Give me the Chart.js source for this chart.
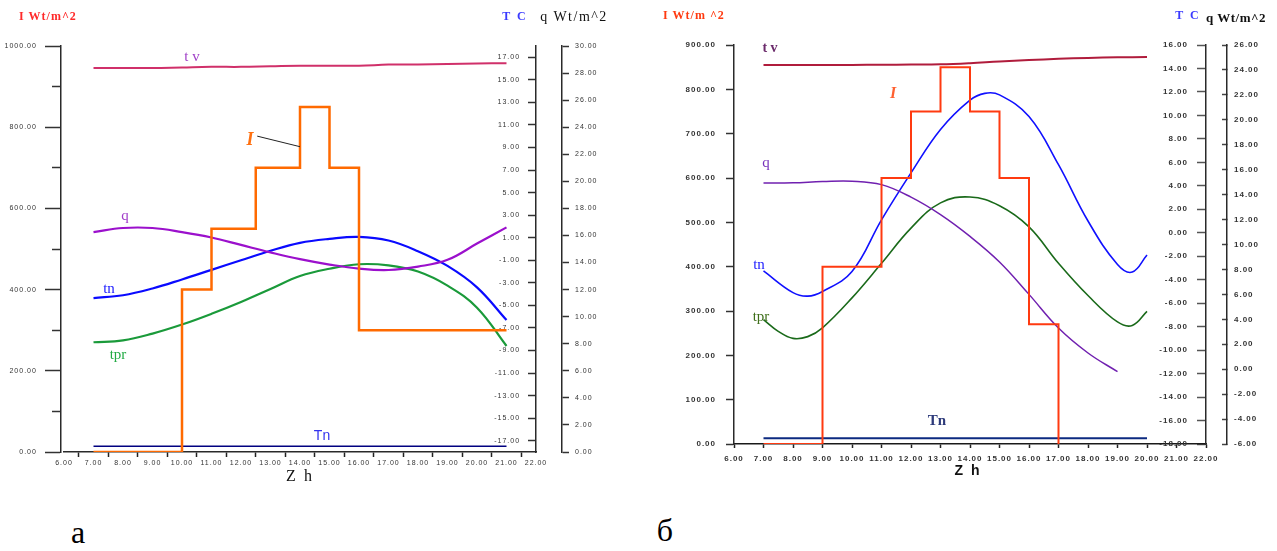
<!DOCTYPE html>
<html>
<head>
<meta charset="utf-8">
<script src="https://cdn.jsdelivr.net/npm/chart.js@4.4.1/dist/chart.umd.min.js"></script>
<style>
  html, body { margin: 0; padding: 0; background: #fff; }
  #wrap { position: relative; width: 1277px; height: 551px; overflow: hidden; background: #fff; }
  canvas { position: absolute; top: 0; }
  #cA { left: 0; }
  #cB { left: 640px; }
  .t { position: absolute; white-space: nowrap; transform: translate(-50%, -50%); line-height: 1; }
  .serif { font-family: "Liberation Serif", "DejaVu Serif", serif; }
  .sans { font-family: "Liberation Sans", Arial, sans-serif; }
</style>
</head>
<body>
<div id="wrap">
  <canvas id="cA" width="640" height="500"></canvas>
  <canvas id="cB" width="637" height="500"></canvas>

  <!-- panel а: axis captions and curve names -->
  <span class="t serif" style="left:48px;top:16px;font-size:12px;font-weight:bold;letter-spacing:1px;color:#ff2a2a">I Wt/m^2</span>
  <span class="t serif" style="left:515px;top:16px;font-size:12px;font-weight:bold;letter-spacing:2px;color:#3a3aff">T C</span>
  <span class="t serif" style="left:574px;top:17px;font-size:14px;letter-spacing:1.5px;color:#111">q Wt/m^2</span>
  <span class="t serif" style="left:192px;top:56px;font-size:15px;color:#a040c8">t v</span>
  <span class="t serif" style="left:250px;top:139px;font-size:18px;font-weight:bold;font-style:italic;color:#ff7010">I</span>
  <span class="t serif" style="left:125px;top:215px;font-size:15px;color:#a03cc8">q</span>
  <span class="t serif" style="left:109px;top:288px;font-size:15px;color:#1a1aff">tn</span>
  <span class="t serif" style="left:118px;top:354px;font-size:15px;color:#22aa44">tpr</span>
  <span class="t sans" style="left:322px;top:435px;font-size:14px;color:#3333ee">Tn</span>
  <span class="t serif" style="left:300px;top:476px;font-size:16px;letter-spacing:2px;color:#111">Z h</span>
  <span class="t serif" style="left:78px;top:532px;font-size:32px;color:#000">а</span>

  <!-- panel б: axis captions and curve names -->
  <span class="t serif" style="left:694px;top:15px;font-size:12px;font-weight:bold;letter-spacing:1px;color:#ff3a10">I Wt/m ^2</span>
  <span class="t serif" style="left:1188px;top:15px;font-size:12px;font-weight:bold;letter-spacing:2px;color:#3a3aff">T C</span>
  <span class="t serif" style="left:1236px;top:17px;font-size:13px;font-weight:bold;letter-spacing:0.5px;color:#111">q Wt/m^2</span>
  <span class="t serif" style="left:770px;top:48px;font-size:14px;font-weight:bold;color:#6b2a6b">t v</span>
  <span class="t serif" style="left:893px;top:93px;font-size:16px;font-weight:bold;font-style:italic;color:#ff6030">I</span>
  <span class="t serif" style="left:766px;top:162px;font-size:15px;color:#7733bb">q</span>
  <span class="t serif" style="left:759px;top:264px;font-size:15px;color:#1a1aff">tn</span>
  <span class="t serif" style="left:761px;top:316px;font-size:15px;color:#3f6f1a">tpr</span>
  <span class="t serif" style="left:937px;top:420px;font-size:15px;font-weight:bold;color:#2d3a7a">Tn</span>
  <span class="t sans" style="left:968px;top:470px;font-size:14px;font-weight:bold;letter-spacing:2px;color:#111">Z h</span>
  <span class="t serif" style="left:665px;top:530px;font-size:32px;color:#000">б</span>
</div>

<script>
// ---------- panel а (hours 7..21) ----------
const hoursA = [7, 8, 9, 10, 11, 12, 13, 14, 15, 16, 17, 18, 19, 20, 21];
const tvA  = [16.05, 16.05, 16.05, 16.1, 16.15, 16.15, 16.2, 16.25, 16.25, 16.25, 16.35, 16.37, 16.4, 16.45, 16.47];
const tnA  = [-4.35, -4.1, -3.5, -2.7, -1.85, -1.0, -0.15, 0.55, 0.9, 1.07, 0.75, -0.2, -1.5, -3.4, -6.3];
const tprA = [-8.27, -8.1, -7.5, -6.7, -5.75, -4.7, -3.55, -2.4, -1.75, -1.35, -1.45, -2.0, -3.25, -5.2, -8.6];
const qA   = [16.25, 16.55, 16.55, 16.25, 15.85, 15.3, 14.75, 14.25, 13.85, 13.55, 13.45, 13.7, 14.2, 15.4, 16.6];
const stepHoursA = [7, 10, 11, 12.5, 14, 15, 16, 21];
const irrA = [0, 400, 550, 700, 850, 700, 300, 300];
const groundHoursA = [7, 21];
const TnA = [-17.5, -17.5];

// ---------- panel б (hours 7..20) ----------
const hoursB = [7, 8, 9, 10, 11, 12, 13, 14, 15, 16, 17, 18, 19, 20];
const tvB = [14.3, 14.3, 14.3, 14.3, 14.32, 14.33, 14.35, 14.45, 14.6, 14.72, 14.82, 14.9, 14.95, 14.97];
const tnHoursB = [7, 8, 8.5, 9, 10, 11, 12, 13, 14, 14.5, 15, 16, 17, 18, 19, 19.5, 20];
const tnB = [-3.25, -5.1, -5.4, -5.0, -3.3, 1.1, 5.1, 8.8, 11.3, 11.88, 11.75, 9.9, 5.8, 1.0, -2.7, -3.35, -1.9];
const tprHoursB = [7, 7.5, 8, 8.5, 9, 10, 11, 12, 13, 14, 15, 16, 17, 18, 19, 19.5, 20];
const tprB = [-7.4, -8.4, -9.0, -8.85, -8.1, -5.55, -2.6, 0.4, 2.55, 3.05, 2.3, 0.5, -2.6, -5.35, -7.6, -7.9, -6.7];
const qHoursB = [7, 8, 9, 10, 11, 12, 13, 14, 15, 16, 17, 18, 19];
const qB = [14.93, 14.95, 15.05, 15.08, 14.8, 13.8, 12.4, 10.65, 8.6, 6.0, 3.3, 1.3, -0.2];
const stepHoursB = [7, 9, 11, 12, 13, 14, 15, 16, 17];
const irrB = [0, 400, 600, 750, 850, 750, 600, 270, 0];
const groundHoursB = [7, 20];
const TnB = [-17.5, -17.5];

// ---------- tick values ----------
const hourTicks = [6, 7, 8, 9, 10, 11, 12, 13, 14, 15, 16, 17, 18, 19, 20, 21, 22];
const irrTicksA = [0, 100, 200, 300, 400, 500, 600, 700, 800, 900, 1000];
const irrLabelStepA = 200;
const tcTicksA = [-17, -15, -13, -11, -9, -7, -5, -3, -1, 1, 3, 5, 7, 9, 11, 13, 15, 17];
const qTicksA = [0, 2, 4, 6, 8, 10, 12, 14, 16, 18, 20, 22, 24, 26, 28, 30];
const irrTicksB = [0, 100, 200, 300, 400, 500, 600, 700, 800, 900];
const tcTicksB = [-18, -16, -14, -12, -10, -8, -6, -4, -2, 0, 2, 4, 6, 8, 10, 12, 14, 16];
const qTicksB = [-6, -4, -2, 0, 2, 4, 6, 8, 10, 12, 14, 16, 18, 20, 22, 24, 26];

// ---------- helpers ----------
const pts = (xs, ys) => xs.map((x, i) => ({ x, y: ys[i] }));
const fixedTicks = values => scale => { scale.ticks = values.map(v => ({ value: v })); };
const sized = (w, h) => scale => {
  if (w !== null) scale.width = w;
  if (h !== null) scale.height = h;
  scale.paddingLeft = 0; scale.paddingRight = 0; scale.paddingTop = 0; scale.paddingBottom = 0;
};
const fmt2 = v => Number(v).toFixed(2);

const spacedText = {
  id: 'spacedText',
  beforeDraw(chart) { chart.ctx.letterSpacing = '1px'; }
};

function line(data, color, width, axis, extra) {
  return Object.assign({
    data, borderColor: color, backgroundColor: color, borderWidth: width,
    pointRadius: 0, fill: false, tension: 0.4, xAxisID: 'x', yAxisID: axis
  }, extra || {});
}

// vertical axis line with tick marks (labels come from a companion label axis)
function axisY(opts) {
  return Object.assign({
    type: 'linear', axis: 'y', afterFit: sized(null, null),
    border: { display: true, color: '#2a2a2a', width: 1.5 }
  }, opts);
}

// label-only companion axis, anchored at an hour value so the right-aligned
// labels end just left of the tick marks of its partner axis
function labelAxis(atHour, min, max, values, font, callback) {
  return {
    type: 'linear', axis: 'y', position: { x: atHour }, min, max,
    afterBuildTicks: fixedTicks(values), afterFit: sized(null, null),
    ticks: { padding: 0, color: '#333', font, callback },
    grid: { display: false }, border: { display: false }
  };
}

// ---------- panel а ----------
const fontA = { family: 'Liberation Sans, Arial, sans-serif', size: 7 };

const leaderLine = {
  id: 'leaderLine',
  afterDatasetsDraw(chart) {
    const xs = chart.scales.x, ys = chart.scales.yI, ctx = chart.ctx;
    ctx.save();
    ctx.strokeStyle = '#222';
    ctx.lineWidth = 1;
    ctx.beginPath();
    ctx.moveTo(xs.getPixelForValue(12.55), ys.getPixelForValue(778));
    ctx.lineTo(xs.getPixelForValue(14), ys.getPixelForValue(752));
    ctx.stroke();
    ctx.restore();
  }
};

new Chart(document.getElementById('cA'), {
  type: 'line',
  data: {
    datasets: [
      line(pts(stepHoursA, irrA), '#ff6a00', 2.5, 'yI', { stepped: true, tension: 0 }),
      line(pts(hoursA, tvA), '#d0306a', 2, 'yT'),
      line(pts(hoursA, qA), '#9b10cc', 2.2, 'yQ'),
      line(pts(hoursA, tnA), '#0a0aff', 2.2, 'yT'),
      line(pts(hoursA, tprA), '#1a9a3a', 2.2, 'yT'),
      line(pts(groundHoursA, TnA), '#000080', 1.5, 'yT', { tension: 0 })
    ]
  },
  options: {
    responsive: false, animation: false, devicePixelRatio: 1, events: [],
    layout: { padding: { left: 64, top: 46, right: 18, bottom: 8 } },
    plugins: { legend: { display: false }, tooltip: { enabled: false } },
    scales: {
      x: {
        type: 'linear', position: 'bottom', min: 6, max: 22,
        afterBuildTicks: fixedTicks(hourTicks), afterFit: sized(null, 40),
        ticks: { autoSkip: false, maxRotation: 0, minRotation: 0, padding: 2, color: '#333', font: fontA, callback: fmt2 },
        grid: { display: true, drawOnChartArea: false, drawTicks: true, tickLength: 5, offset: true, tickColor: '#222', tickWidth: 1.5 },
        border: { display: true, color: '#2a2a2a', width: 1.5 }
      },
      yI: axisY({
        position: { x: 5.9 }, min: 0, max: 1000,
        afterBuildTicks: fixedTicks(irrTicksA),
        ticks: { display: false },
        grid: {
          display: true, drawOnChartArea: false, drawTicks: true, tickLength: 15, tickColor: '#333', tickWidth: 1.5,
          tickBorderDash: c => (c.tick && c.tick.value % irrLabelStepA !== 0 ? [8, 40] : [])
        }
      }),
      yIlab: labelAxis(5.08, 0, 1000, irrTicksA, fontA, v => (v % irrLabelStepA === 0 ? fmt2(v) : '')),
      yT: axisY({
        position: { x: 22 }, min: -18, max: 18,
        afterBuildTicks: fixedTicks(tcTicksA),
        ticks: { display: false },
        grid: { display: true, drawOnChartArea: false, drawTicks: true, tickLength: 7, tickColor: '#333', tickWidth: 1.5 }
      }),
      yTlab: labelAxis(21.46, -18, 18, tcTicksA, fontA, fmt2),
      gapA: {
        type: 'linear', axis: 'y', position: 'right', weight: 1, afterFit: sized(26, null),
        ticks: { display: false }, grid: { display: false }, border: { display: false }
      },
      yQ: axisY({
        position: 'right', weight: 2, min: 0, max: 30,
        afterBuildTicks: fixedTicks(qTicksA), afterFit: sized(60, null),
        ticks: { padding: 6, color: '#333', font: fontA, callback: fmt2 },
        grid: { display: true, drawOnChartArea: false, drawTicks: true, tickLength: 7, tickColor: '#333', tickWidth: 1.5 }
      })
    }
  },
  plugins: [spacedText, leaderLine]
});

// ---------- panel б ----------
const fontB = { family: 'Liberation Sans, Arial, sans-serif', size: 8, weight: 'bold' };

new Chart(document.getElementById('cB'), {
  type: 'line',
  data: {
    datasets: [
      line(pts(stepHoursB, irrB), '#ff3a10', 2, 'yI', { stepped: true, tension: 0 }),
      line(pts(hoursB, tvB), '#b01c3c', 2, 'yT'),
      line(pts(qHoursB, qB), '#7020b0', 1.5, 'yQ'),
      line(pts(tnHoursB, tnB), '#1010ff', 1.6, 'yT'),
      line(pts(tprHoursB, tprB), '#1a6a1a', 1.6, 'yT'),
      line(pts(groundHoursB, TnB), '#0c2a80', 2, 'yT', { tension: 0 })
    ]
  },
  options: {
    responsive: false, animation: false, devicePixelRatio: 1, events: [],
    layout: { padding: { left: 94, top: 45, right: 0, bottom: 16 } },
    plugins: { legend: { display: false }, tooltip: { enabled: false } },
    scales: {
      x: {
        type: 'linear', position: 'bottom', min: 6, max: 22,
        afterBuildTicks: fixedTicks(hourTicks), afterFit: sized(null, 40),
        ticks: { autoSkip: false, maxRotation: 0, minRotation: 0, padding: 6, color: '#333', font: fontB, callback: fmt2 },
        grid: { display: true, drawOnChartArea: false, drawTicks: true, tickLength: 4, tickColor: '#222', tickWidth: 1.5 },
        border: { display: true, color: '#1a1a1a', width: 1.5 }
      },
      yI: axisY({
        position: { x: 6 }, min: 0, max: 900,
        afterBuildTicks: fixedTicks(irrTicksB),
        ticks: { display: false },
        grid: { display: true, drawOnChartArea: false, drawTicks: true, tickLength: 7, tickColor: '#333', tickWidth: 1.5 }
      }),
      yIlab: labelAxis(5.39, 0, 900, irrTicksB, fontB, fmt2),
      yT: axisY({
        position: { x: 22 }, min: -18, max: 16,
        afterBuildTicks: fixedTicks(tcTicksB),
        ticks: { display: false },
        grid: { display: true, drawOnChartArea: false, drawTicks: true, tickLength: 8, tickColor: '#555', tickWidth: 1.5 }
      }),
      yTlab: labelAxis(21.39, -18, 16, tcTicksB, fontB, fmt2),
      gapB: {
        type: 'linear', axis: 'y', position: 'right', weight: 1, afterFit: sized(21, null),
        ticks: { display: false }, grid: { display: false }, border: { display: false }
      },
      yQ: axisY({
        position: 'right', weight: 2, min: -6, max: 26,
        afterBuildTicks: fixedTicks(qTicksB), afterFit: sized(50, null),
        ticks: { padding: 12, color: '#333', font: fontB, callback: fmt2 },
        grid: { display: true, drawOnChartArea: false, drawTicks: true, tickLength: -5, tickColor: '#444', tickWidth: 1.5 }
      })
    }
  },
  plugins: [spacedText]
});
</script>
</body>
</html>
